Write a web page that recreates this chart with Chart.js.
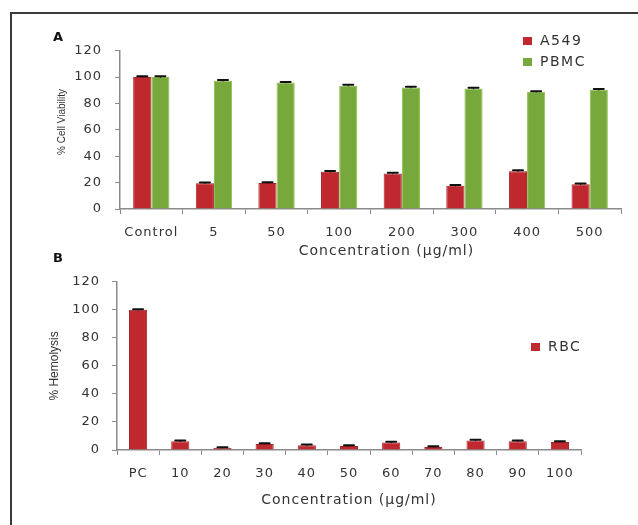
<!DOCTYPE html>
<html>
<head>
<meta charset="utf-8">
<script src="https://cdn.jsdelivr.net/npm/chart.js@4.4.0/dist/chart.umd.min.js"></script>
<style>
  body { margin: 0; background: #fff; }
  #page { position: relative; width: 638px; height: 525px; overflow: hidden; background: #fff; }
  #frame { position: absolute; left: 10px; top: 12px; width: 700px; height: 600px; border-left: 2px solid #3a3a3a; border-top: 2px solid #3a3a3a; }
  .panel { position: absolute; left: 0; }
  .lbl { position: absolute; font: bold 13px "DejaVu Sans", sans-serif; color: #111; }
</style>
</head>
<body>
<div id="page">
  <div id="frame"></div>
  <div class="panel" style="top:0;width:638px;height:262px"><canvas id="chartA"></canvas></div>
  <div class="panel" style="top:262px;width:638px;height:263px"><canvas id="chartB"></canvas></div>
  <div class="lbl" style="left:53px;top:29px">A</div>
  <div class="lbl" style="left:53px;top:250px">B</div>
</div>
<script>
// panel A: cell viability
const concA = ['Control', '5', '50', '100', '200', '300', '400', '500'];
const a549 = [100, 19.5, 19.8, 28.2, 26.9, 17.6, 28.7, 18.8];
const a549Err = [0.6, 0.5, 0.5, 0.6, 0.6, 0.5, 0.6, 0.6];
const pbmc = [100, 97.2, 95.8, 93.5, 92.1, 91.3, 88.8, 90.4];
const pbmcErr = [0.6, 0.6, 0.5, 0.6, 0.6, 0.6, 0.5, 0.6];

// panel B: hemolysis
const concB = ['PC', '10', '20', '30', '40', '50', '60', '70', '80', '90', '100'];
const rbc = [100, 6.2, 1.6, 4.3, 3.3, 2.9, 5.3, 2.2, 6.8, 6.3, 5.7];
const rbcErr = [0.5, 0.5, 0.4, 0.5, 0.6, 0.4, 0.5, 0.5, 0.5, 0.5, 0.5];

const yTicks = [0, 20, 40, 60, 80, 100, 120];

const RED = '#c0282f';
const GREEN = '#77a83b';
const TXT = '#333';
const AXIS = '#8a8a8a';
const tickFont = { family: '"DejaVu Sans", Verdana, sans-serif', size: 13 };

// the source figure is stretched sideways, so spread the letters a little
const wideText = {
  id: 'wideText',
  beforeDraw(chart) { chart.ctx.letterSpacing = '1px'; }
};

// axis titles drawn by hand (x title in A sits right of centre in the source)
const axisTitles = {
  id: 'axisTitles',
  afterDraw(chart, args, opts) {
    const ctx = chart.ctx;
    const area = chart.chartArea;
    ctx.save();
    ctx.fillStyle = TXT;
    ctx.textAlign = 'center';
    ctx.textBaseline = 'middle';
    ctx.letterSpacing = '1px';
    ctx.font = '14px "DejaVu Sans", Verdana, sans-serif';
    ctx.fillText(opts.xText, (area.left + area.right) / 2 + opts.xShift, opts.xY);
    ctx.letterSpacing = '0px';
    ctx.font = opts.ySize + 'px "Liberation Sans", Arial, sans-serif';
    ctx.translate(opts.yX, chart.scales.y.getPixelForValue(opts.yMid));
    ctx.rotate(-Math.PI / 2);
    ctx.fillText(opts.yText, 0, 0);
    ctx.restore();
  }
};

const errorBars = {
  id: 'errorBars',
  afterDatasetsDraw(chart) {
    const ctx = chart.ctx;
    const y = chart.scales.y;
    chart.data.datasets.forEach((ds, i) => {
      const meta = chart.getDatasetMeta(i);
      meta.data.forEach((bar, j) => {
        const v = ds.data[j], e = ds.errors[j];
        const top = y.getPixelForValue(v + e);
        const bot = y.getPixelForValue(v - e);
        ctx.save();
        ctx.strokeStyle = '#111';
        ctx.lineWidth = 1;
        ctx.beginPath();
        ctx.moveTo(bar.x, top);
        ctx.lineTo(bar.x, bot);
        ctx.stroke();
        ctx.lineWidth = 2;
        ctx.lineCap = 'round';
        ctx.beginPath();
        ctx.moveTo(bar.x - 5, top);
        ctx.lineTo(bar.x + 5, top);
        ctx.stroke();
        ctx.restore();
      });
    });
  }
};

const boxLegend = {
  id: 'boxLegend',
  afterDraw(chart, args, opts) {
    const ctx = chart.ctx;
    ctx.save();
    ctx.font = '14px "DejaVu Sans", Verdana, sans-serif';
    ctx.letterSpacing = '1.5px';
    ctx.textBaseline = 'middle';
    chart.data.datasets.forEach((ds, i) => {
      const yy = opts.y + i * opts.gap;
      ctx.fillStyle = ds.backgroundColor;
      ctx.fillRect(opts.x, yy - 4, 9, 8);
      ctx.fillStyle = TXT;
      ctx.fillText(ds.label, opts.x + 17, yy);
    });
    ctx.restore();
  }
};

function axes(yWidth, yPad, xHeight, xPad) {
  return {
    x: {
      grid: { display: true, drawOnChartArea: false, offset: true, tickLength: 5, color: AXIS },
      border: { color: AXIS, width: 1.5 },
      ticks: { color: TXT, font: tickFont, padding: xPad, maxRotation: 0, autoSkip: false },
      afterFit: s => { s.height = xHeight; }
    },
    y: {
      min: 0, max: 120,
      afterBuildTicks: s => { s.ticks = yTicks.map(v => ({ value: v })); },
      grid: { display: true, drawOnChartArea: false, tickLength: 5, color: AXIS },
      border: { color: AXIS, width: 1.5 },
      ticks: { color: TXT, font: tickFont, padding: yPad },
      afterFit: s => { s.width = yWidth; }
    }
  };
}

new Chart(document.getElementById('chartA'), {
  type: 'bar',
  data: {
    labels: concA,
    datasets: [
      { label: 'A549', data: a549, errors: a549Err, backgroundColor: RED, borderColor: '#a82228', borderWidth: 1 },
      { label: 'PBMC', data: pbmc, errors: pbmcErr, backgroundColor: GREEN, borderColor: '#8fbf4a', borderWidth: 1 }
    ]
  },
  options: {
    responsive: true,
    maintainAspectRatio: false,
    animation: false,
    categoryPercentage: 0.58,
    barPercentage: 1,
    layout: { padding: { left: 56, top: 50.7, right: 17, bottom: 3 } },
    plugins: {
      legend: { display: false },
      tooltip: { enabled: false },
      boxLegend: { x: 523, y: 41, gap: 21 },
      axisTitles: { xText: 'Concentration (µg/ml)', xShift: 16, xY: 251, yText: '% Cell Viability', yX: 62, yMid: 66, ySize: 10 }
    },
    scales: axes(64, 13, 50, 11)
  },
  plugins: [wideText, errorBars, boxLegend, axisTitles]
});

new Chart(document.getElementById('chartB'), {
  type: 'bar',
  data: {
    labels: concB,
    datasets: [
      { label: 'RBC', data: rbc, errors: rbcErr, backgroundColor: RED, borderColor: '#a82228', borderWidth: 1 }
    ]
  },
  options: {
    responsive: true,
    maintainAspectRatio: false,
    animation: false,
    categoryPercentage: 0.43,
    barPercentage: 1,
    layout: { padding: { left: 48, top: 15, right: 57, bottom: 17 } },
    plugins: {
      legend: { display: false },
      tooltip: { enabled: false },
      boxLegend: { x: 531, y: 85, gap: 21 },
      axisTitles: { xText: 'Concentration (µg/ml)', xShift: 0, xY: 238, yText: '% Hemolysis', yX: 55, yMid: 60, ySize: 12 }
    },
    scales: axes(69, 12, 58, 11)
  },
  plugins: [wideText, errorBars, boxLegend, axisTitles]
});
</script>
</body>
</html>
